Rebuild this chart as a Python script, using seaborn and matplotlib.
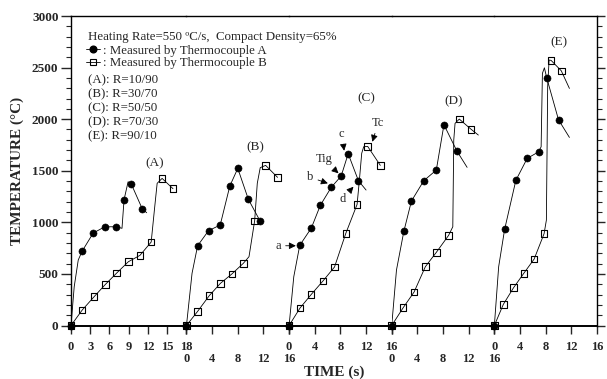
import numpy as np
import pandas as pd
import matplotlib
matplotlib.use("Agg")
import matplotlib.pyplot as plt
from matplotlib.ticker import MultipleLocator
from matplotlib.lines import Line2D
import seaborn as sns

# ---------------- data ----------------
panels = ["A", "B", "C", "D", "E"]
panel_spans = [18, 16, 16, 16, 16]
panel_tick_steps = [3, 4, 4, 4, 4]
ratio_labels = ["(A): R=10/90", "(B): R=30/70", "(C): R=50/50", "(D): R=70/30", "(E): R=90/10"]

# Thermocouple A (filled circles) / B (open squares); *_mark = 1 where a marker is drawn
A_tcA_t = [0, 0.5, 1.13, 1.75, 3.46, 5.27, 7.08, 7.95, 8.27, 8.9, 9.4, 11.1, 11.8]
A_tcA_T = [0, 376, 635, 722, 896, 957, 957, 942, 1219, 1393, 1371, 1132, 1093]
A_tcA_mark = [1, 0, 0, 1, 1, 1, 1, 0, 1, 0, 1, 1, 0]
A_tcB_t = [0, 1.75, 3.6, 5.37, 7.13, 8.94, 10.75, 12.5, 13.0, 13.43, 14.2, 15.9]
A_tcB_T = [0, 150, 279, 399, 509, 618, 680, 809, 1119, 1378, 1426, 1326]
A_tcB_mark = [1, 1, 1, 1, 1, 1, 1, 1, 0, 0, 1, 1]

B_tcA_t = [0, 0.87, 1.74, 3.44, 5.26, 6.76, 8.0, 9.65, 11.46]
B_tcA_T = [0, 506, 773, 919, 974, 1352, 1523, 1223, 1015]
B_tcA_mark = [1, 0, 1, 1, 1, 1, 1, 1, 1]
B_tcB_t = [0, 1.74, 3.55, 5.3, 7.07, 8.87, 9.75, 10.63, 11.04, 11.5, 12.34, 14.2]
B_tcB_T = [0, 137, 289, 409, 499, 603, 667, 1015, 1378, 1530, 1552, 1436]
B_tcB_mark = [1, 1, 1, 1, 1, 1, 0, 1, 0, 0, 1, 1]

C_tcA_t = [0, 0.73, 1.66, 3.47, 4.87, 6.57, 8.12, 9.21, 10.81, 12.0]
C_tcA_T = [0, 473, 777, 945, 1165, 1339, 1449, 1665, 1403, 1313]
C_tcA_mark = [1, 0, 1, 1, 1, 1, 1, 1, 1, 0]
C_tcB_t = [0, 1.71, 3.41, 5.27, 7.08, 8.84, 10.6, 10.96, 11.32, 11.63, 12.25, 14.22]
C_tcB_T = [0, 170, 298, 431, 567, 893, 1174, 1410, 1669, 1733, 1736, 1552]
C_tcB_mark = [1, 1, 1, 1, 1, 1, 1, 0, 0, 0, 1, 1]

D_tcA_t = [0, 0.74, 1.89, 3.07, 4.99, 6.95, 8.14, 10.16, 11.75]
D_tcA_T = [0, 538, 913, 1206, 1403, 1507, 1946, 1691, 1533]
D_tcA_mark = [1, 0, 1, 1, 1, 1, 1, 1, 0]
D_tcB_t = [0, 1.78, 3.49, 5.24, 6.95, 8.87, 9.52, 9.67, 9.87, 10.53, 12.39, 13.5]
D_tcB_T = [0, 172, 325, 570, 709, 874, 957, 1797, 1959, 2001, 1901, 1846]
D_tcB_mark = [1, 1, 1, 1, 1, 1, 0, 0, 0, 1, 1, 0]

E_tcA_t = [0, 0.67, 1.6, 3.35, 5.12, 6.92, 7.29, 7.49, 7.8, 8.16, 10.0, 11.7]
E_tcA_T = [0, 570, 932, 1407, 1620, 1684, 1733, 2444, 2498, 2401, 1994, 1823]
E_tcA_mark = [1, 0, 1, 1, 1, 1, 0, 0, 0, 1, 1, 0]
E_tcB_t = [0, 1.4, 2.99, 4.59, 6.2, 7.75, 8.11, 8.31, 8.53, 8.84, 10.43, 11.7]
E_tcB_T = [0, 205, 366, 506, 644, 890, 1022, 2314, 2573, 2570, 2469, 2298]
E_tcB_mark = [1, 1, 1, 1, 1, 1, 0, 0, 0, 1, 1, 0]

# panel label positions (time, temperature)
label_t = [13.0, 10.8, 12.1, 9.6, 10.1]
label_T = [1572, 1723, 2207, 2175, 2750]

series = {
    "A": ((A_tcA_t, A_tcA_T, A_tcA_mark), (A_tcB_t, A_tcB_T, A_tcB_mark)),
    "B": ((B_tcA_t, B_tcA_T, B_tcA_mark), (B_tcB_t, B_tcB_T, B_tcB_mark)),
    "C": ((C_tcA_t, C_tcA_T, C_tcA_mark), (C_tcB_t, C_tcB_T, C_tcB_mark)),
    "D": ((D_tcA_t, D_tcA_T, D_tcA_mark), (D_tcB_t, D_tcB_T, D_tcB_mark)),
    "E": ((E_tcA_t, E_tcA_T, E_tcA_mark), (E_tcB_t, E_tcB_T, E_tcB_mark)),
}

# ---------------- style ----------------
sns.set_style("ticks")
plt.rcParams["font.family"] = ["Liberation Serif", "DejaVu Serif"]

W, H = 607, 379
fig, axes = plt.subplots(1, 5, figsize=(W / 100, H / 100), dpi=100,
                         gridspec_kw=dict(width_ratios=panel_spans, wspace=0))
fig.subplots_adjust(left=71 / W, right=597 / W, top=1 - 16 / H, bottom=1 - 325.5 / H)

for i, (ax, p) in enumerate(zip(axes, panels)):
    ax.set_facecolor("none")
    (ta, Ta, ma), (tb, Tb, mb) = series[p]
    dfa = pd.DataFrame({"t": ta, "T": Ta, "m": ma})
    dfb = pd.DataFrame({"t": tb, "T": Tb, "m": mb})
    sns.lineplot(data=dfa, x="t", y="T", ax=ax, color="black", lw=0.6,
                 sort=False, estimator=None, zorder=2)
    sns.lineplot(data=dfb, x="t", y="T", ax=ax, color="black", lw=0.6,
                 sort=False, estimator=None, zorder=4)
    sns.scatterplot(data=dfa[dfa.m == 1], x="t", y="T", ax=ax, marker="o", s=26,
                    color="black", edgecolor="black", linewidth=0.4, zorder=3, clip_on=False)
    sns.scatterplot(data=dfb[dfb.m == 1], x="t", y="T", ax=ax, marker="s", s=22,
                    facecolor="none", edgecolor="black", linewidth=0.8, zorder=5, clip_on=False)
    ax.set_xlim(0, panel_spans[i])
    ax.set_ylim(0, 3000)
    ax.set_xlabel("")
    ax.set_ylabel("")
    ax.xaxis.set_major_locator(MultipleLocator(panel_tick_steps[i]))
    ax.yaxis.set_major_locator(MultipleLocator(500))
    ax.yaxis.set_minor_locator(MultipleLocator(100))
    pad = 5.5 if i % 2 == 0 else 14
    ax.tick_params(axis="x", direction="out", length=6, width=1.0, pad=pad, labelsize=9)
    for lab in ax.get_xticklabels():
        lab.set_fontweight("bold")
    for s in ax.spines.values():
        s.set_linewidth(1.0)
        s.set_color("black")
    ax.spines["bottom"].set_linewidth(1.4)
    ax.spines["top"].set_visible(True)
    ax.spines["left"].set_visible(i == 0)
    ax.spines["right"].set_visible(i == 4)
    if i == 0:
        ax.tick_params(axis="y", which="major", direction="out", length=7, width=1.0,
                       pad=2, labelsize=9.5, left=True, right=False)
        ax.tick_params(axis="y", which="minor", direction="out", length=3.5, width=0.8,
                       left=True, right=False)
        for lab in ax.get_yticklabels():
            lab.set_fontweight("bold")
    elif i == 4:
        ax.tick_params(axis="y", which="major", direction="out", length=6, width=1.0,
                       left=False, right=True, labelleft=False, labelright=False)
        ax.tick_params(axis="y", which="minor", direction="out", length=3.5, width=0.8,
                       left=False, right=True)
    else:
        ax.tick_params(axis="y", which="both", left=False, right=False,
                       labelleft=False, labelright=False)
    ax.text(label_t[i], label_T[i], f"({p})", ha="center", va="center", fontsize=9.5)

# annotations in panel C
axC = axes[2]
arrow = dict(arrowstyle="-|>", color="black", lw=0.6, mutation_scale=10, shrinkA=1, shrinkB=0)
ann = [("a", (1.05, 773), (-1.7, 773)),
       ("b", (6.04, 1378), (3.3, 1436)),
       ("Tig", (7.7, 1475), (5.4, 1610)),
       ("c", (8.59, 1694), (8.2, 1860)),
       ("d", (10.03, 1345), (8.33, 1229)),
       ("Tc", (12.98, 1781), (13.9, 1965))]
for txt, xy, xyt in ann:
    axC.annotate(txt, xy=xy, xytext=xyt, ha="center", va="center", fontsize=9,
                 arrowprops=arrow, annotation_clip=False, zorder=6)

# legend block
fig.text(87.7 / W, 1 - 36.7 / H, "Heating Rate=550 \u00baC/s,  Compact Density=65%",
         fontsize=9.3, ha="left", va="center")
handles = [Line2D([], [], color="black", lw=0.6, marker="o", ms=4.8, mfc="black", mec="black"),
           Line2D([], [], color="black", lw=0.6, marker="s", ms=4.8, mfc="none", mec="black", mew=0.8)]
fig.legend(handles, [": Measured by Thermocouple A", ": Measured by Thermocouple B"],
           loc="upper left", bbox_to_anchor=(86 / W, 1 - 44.5 / H), frameon=False,
           prop=dict(size=9.3), handlelength=1.1, handletextpad=0.2, labelspacing=0.05,
           borderpad=0, borderaxespad=0)
for k, lab in enumerate(ratio_labels):
    fig.text(87.7 / W, 1 - (80 + 14 * k) / H, lab, fontsize=9.3, ha="left", va="center")

fig.text(334 / W, 1 - 372 / H, "TIME (s)", fontsize=11, fontweight="bold",
         ha="center", va="center")
fig.text(17 / W, 1 - 170.7 / H, "TEMPERATURE (\u00b0C)", fontsize=11, fontweight="bold",
         rotation=90, ha="center", va="center")

fig.savefig("out.png", dpi=100)
